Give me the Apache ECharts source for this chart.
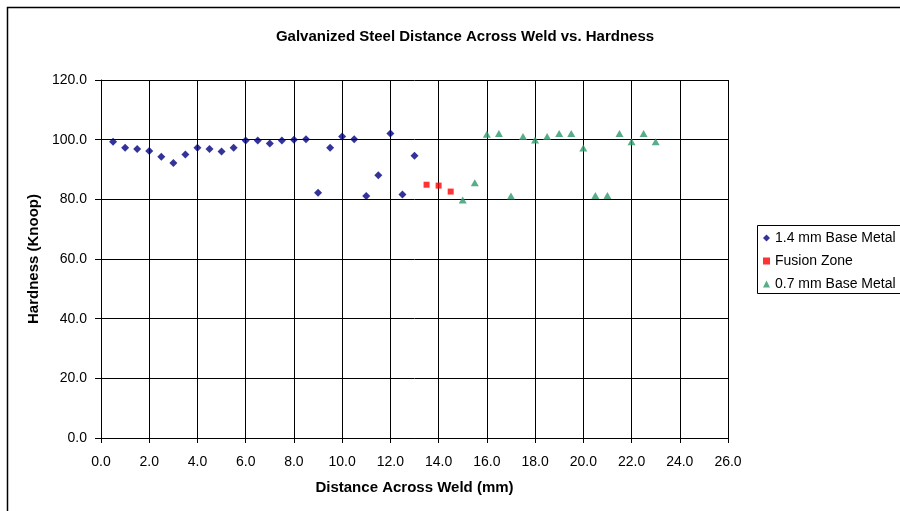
<!DOCTYPE html>
<html>
<head>
  <meta charset="UTF-8">
  <style>
    html, body { margin: 0; padding: 0; background: #fff; }
    #chart { width: 900px; height: 511px; }
  </style>
</head>
<body>
<div id="chart"></div>
<script type="text/javascript" src="https://cdn.jsdelivr.net/npm/echarts@6/dist/echarts.min.js"></script>
<script type="text/javascript">
  // 1.4 mm base metal
  var base14X = [0.5, 1.0, 1.5, 2.0, 2.5, 3.0, 3.5, 4.0, 4.5, 5.0, 5.5, 6.0, 6.5, 7.0, 7.5, 8.0, 8.5, 9.0, 9.5, 10.0, 10.5, 11.0, 11.5, 12.0, 12.5, 13.0];
  var base14Y = [99.3, 97.3, 96.9, 96.2, 94.3, 92.2, 95.0, 97.3, 96.9, 96.0, 97.3, 99.7, 99.7, 98.7, 99.7, 100.0, 100.1, 82.2, 97.3, 101.1, 100.1, 81.1, 88.1, 102.1, 81.6, 94.6];
  // fusion zone
  var fusionX = [13.5, 14.0, 14.5];
  var fusionY = [84.9, 84.6, 82.6];
  // 0.7 mm base metal
  var base07X = [15.0, 15.5, 16.0, 16.5, 17.0, 17.5, 18.0, 18.5, 19.0, 19.5, 20.0, 20.5, 21.0, 21.5, 22.0, 22.5, 23.0];
  var base07Y = [79.8, 85.6, 101.8, 102.1, 81.1, 101.1, 99.9, 101.1, 102.1, 102.1, 97.2, 81.3, 81.3, 102.1, 99.3, 102.1, 99.3];

  var seriesNames = ['1.4 mm Base Metal', 'Fusion Zone', '0.7 mm Base Metal'];

  function pairs(xs, ys) {
    var out = [];
    for (var i = 0; i < xs.length; i++) out.push([xs[i], ys[i]]);
    return out;
  }

  var font = 'Liberation Sans, Arial, sans-serif';
  var myChart = echarts.init(document.getElementById('chart'));
  var option = {
    backgroundColor: '#fff',
    animation: false,
    textStyle: {fontFamily: font},
    title: {
      text: 'Galvanized Steel Distance Across Weld vs. Hardness',
      left: 460, top: 24, textAlign: 'center',
      textStyle: {fontSize: 15, fontWeight: 'bold', color: '#000', fontFamily: font}
    },
    // chart frame and legend box (both run off the right edge in the original)
    graphic: [{
      type: 'rect', shape: {x: 7.5, y: 7.5, width: 1000, height: 1000},
      style: {fill: 'none', stroke: '#000', lineWidth: 1.5}, silent: true
    }, {
      type: 'rect', shape: {x: 757.5, y: 225.5, width: 200, height: 68},
      style: {fill: 'none', stroke: '#000', lineWidth: 1}, silent: true
    }],
    legend: {
      orient: 'vertical', left: 757, top: 225,
      data: seriesNames,
      itemWidth: 7, itemHeight: 7, itemGap: 9,
      padding: [6, 6, 6, 6],
      textStyle: {fontSize: 14, color: '#000', fontFamily: font}
    },
    grid: {left: 101, right: 172, top: 80, bottom: 73},
    xAxis: {
      type: 'value', min: 0, max: 26, interval: 2,
      name: 'Distance Across Weld (mm)', nameLocation: 'middle', nameGap: 42,
      nameTextStyle: {fontSize: 15, fontWeight: 'bold', color: '#000'},
      axisLine: {lineStyle: {color: '#000'}},
      axisTick: {show: true, length: 5, lineStyle: {color: '#000'}},
      axisLabel: {fontSize: 14, color: '#000', margin: 17, formatter: function (v) { return v.toFixed(1); }},
      splitLine: {show: true, lineStyle: {color: '#000', width: 1}}
    },
    yAxis: {
      type: 'value', min: 0, max: 120, interval: 20,
      name: 'Hardness (Knoop)', nameLocation: 'middle', nameGap: 60,
      nameTextStyle: {fontSize: 15, fontWeight: 'bold', color: '#000'},
      axisLine: {show: true, lineStyle: {color: '#000'}},
      axisTick: {show: true, length: 6, lineStyle: {color: '#000'}},
      axisLabel: {fontSize: 14, color: '#000', margin: 14, formatter: function (v) { return v.toFixed(1); }},
      splitLine: {show: true, lineStyle: {color: '#000', width: 1}}
    },
    series: [
      {name: seriesNames[0], type: 'scatter', symbol: 'diamond', symbolSize: 8,
       itemStyle: {color: '#000080'}, data: pairs(base14X, base14Y)},
      {name: seriesNames[1], type: 'scatter', symbol: 'rect', symbolSize: 6,
       itemStyle: {color: '#ff0000'}, data: pairs(fusionX, fusionY)},
      {name: seriesNames[2], type: 'scatter', symbol: 'triangle', symbolSize: [8, 7],
       itemStyle: {color: '#2e9a6a'}, data: pairs(base07X, base07Y)}
    ]
  };
  myChart.setOption(option);
</script>
</body>
</html>
